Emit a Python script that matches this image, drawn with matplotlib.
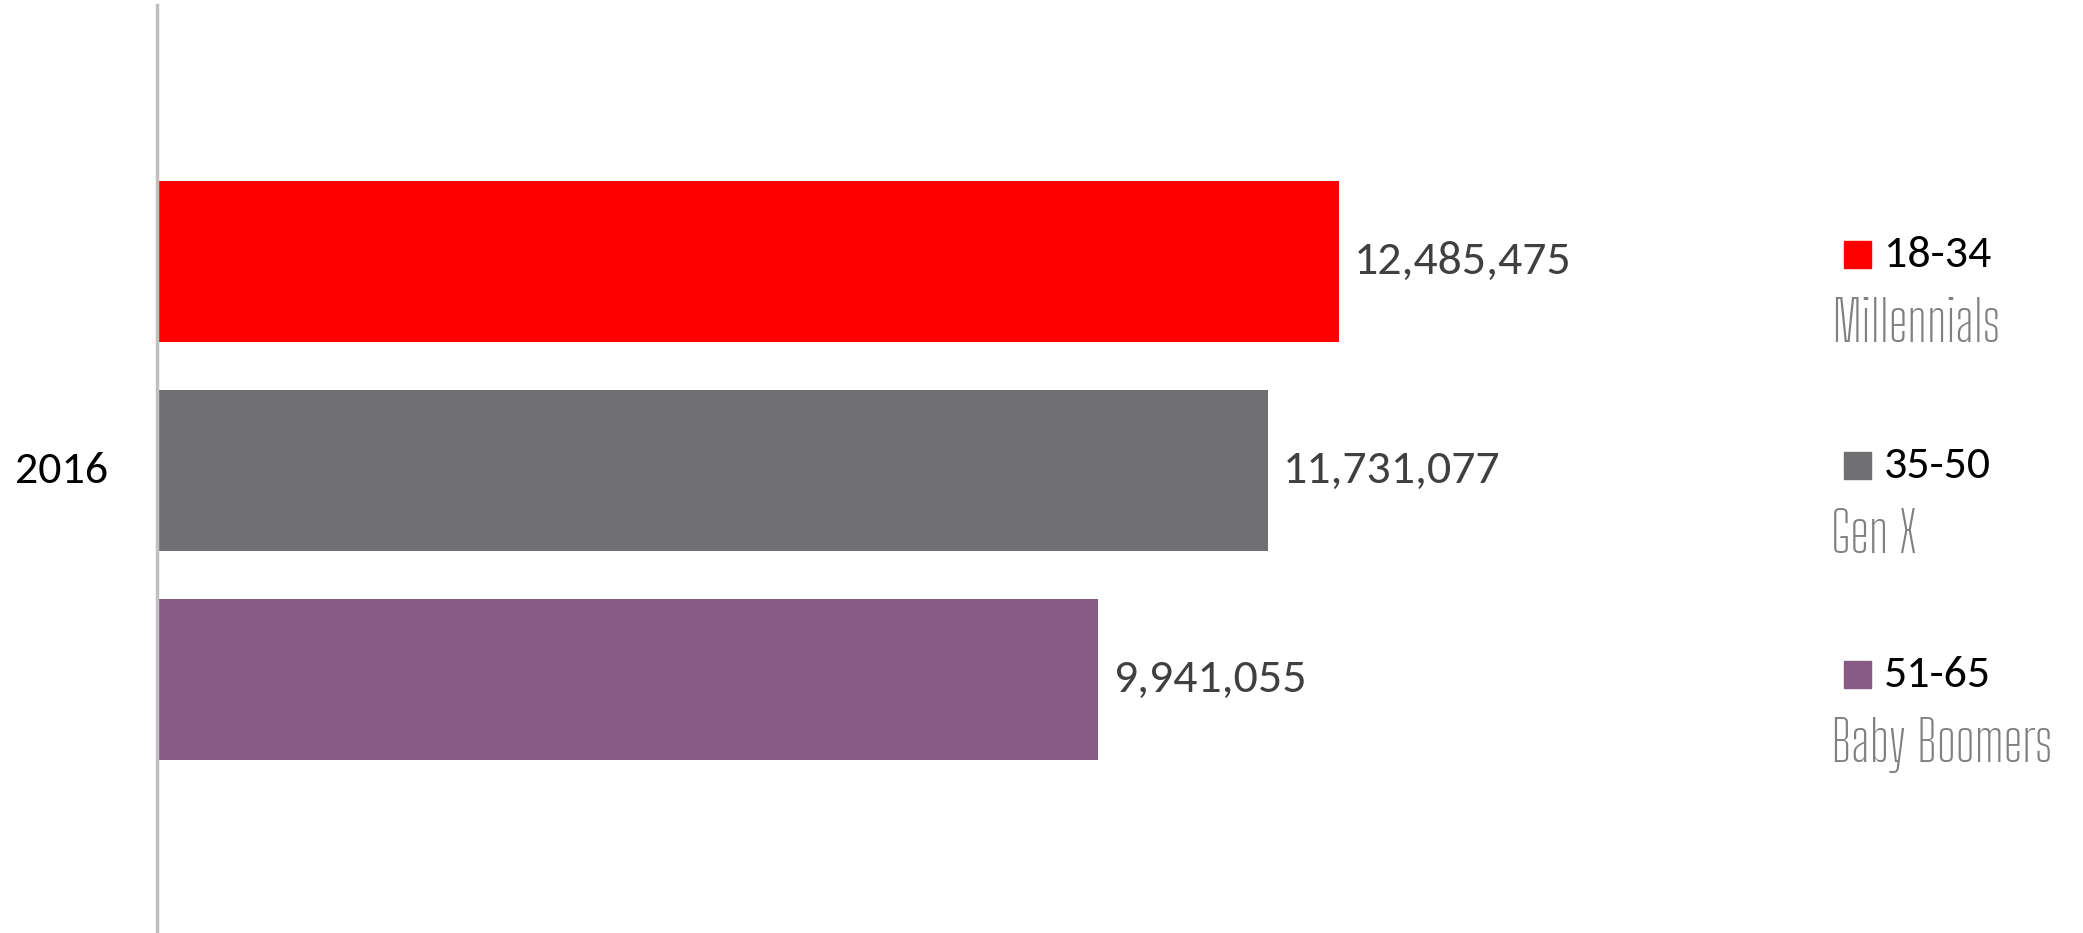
import matplotlib.pyplot as plt
from matplotlib.patches import Rectangle

# Datos: población por generación (2016)
year_label = "2016"
age_ranges = ["18-34", "35-50", "51-65"]
generations = ["Millennials", "Gen X", "Baby Boomers"]
population = [12485475, 11731077, 9941055]
colors = ["#ff0000", "#6f6f71", "#875a86"]

W, H = 2083, 933
fig = plt.figure(figsize=(W / 100, H / 100), dpi=100)

body_font = ["Carlito", "DejaVu Sans"]
label_font = ["Big Shoulders Text", "DejaVu Sans"]

# Área del gráfico en píxeles -> fracción de figura
x0, x1 = 157, 1800
ax = fig.add_axes([x0 / W, 0, (x1 - x0) / W, (H - 5) / H])

ypos = list(range(len(population)))
ax.barh(ypos, population, height=0.77, color=colors)

px_per_unit = (1339 - 157) / population[0]
ax.set_xlim(0, (x1 - x0) / px_per_unit)
ax.set_ylim(3.215, -1.225)

for y, v in zip(ypos, population):
    ax.annotate(f"{v:,}", xy=(v, y), xytext=(11, 0), textcoords="offset points",
                ha="left", va="center", fontsize=34.5, color="#404040",
                family=body_font)

for s in ["top", "right", "bottom"]:
    ax.spines[s].set_visible(False)
ax.spines["left"].set_color("#c0c0c0")
ax.spines["left"].set_linewidth(2.5)
ax.set_xticks([])
ax.set_yticks([])

fig.text(62 / W, 1 - 471 / H, year_label, ha="center", va="center",
         fontsize=33, color="black", family=body_font)

# Leyenda manual: cuadro + rango de edad + nombre de la generación
legend_y = [255, 466, 675]
for ly, c, rng, gen in zip(legend_y, colors, age_ranges, generations):
    fig.patches.append(Rectangle((1844 / W, 1 - (ly + 13) / H), 27 / W, 27 / H,
                                 transform=fig.transFigure, color=c))
    fig.text(1884 / W, 1 - ly / H, rng, ha="left", va="center", fontsize=33,
             color="black", family=body_font)
    fig.text(1831 / W, 1 - (ly + 70) / H, gen, ha="left", va="center", fontsize=40,
             weight=600, color="#808080", family=label_font)

fig.savefig("out.png", dpi=100, facecolor="white")
